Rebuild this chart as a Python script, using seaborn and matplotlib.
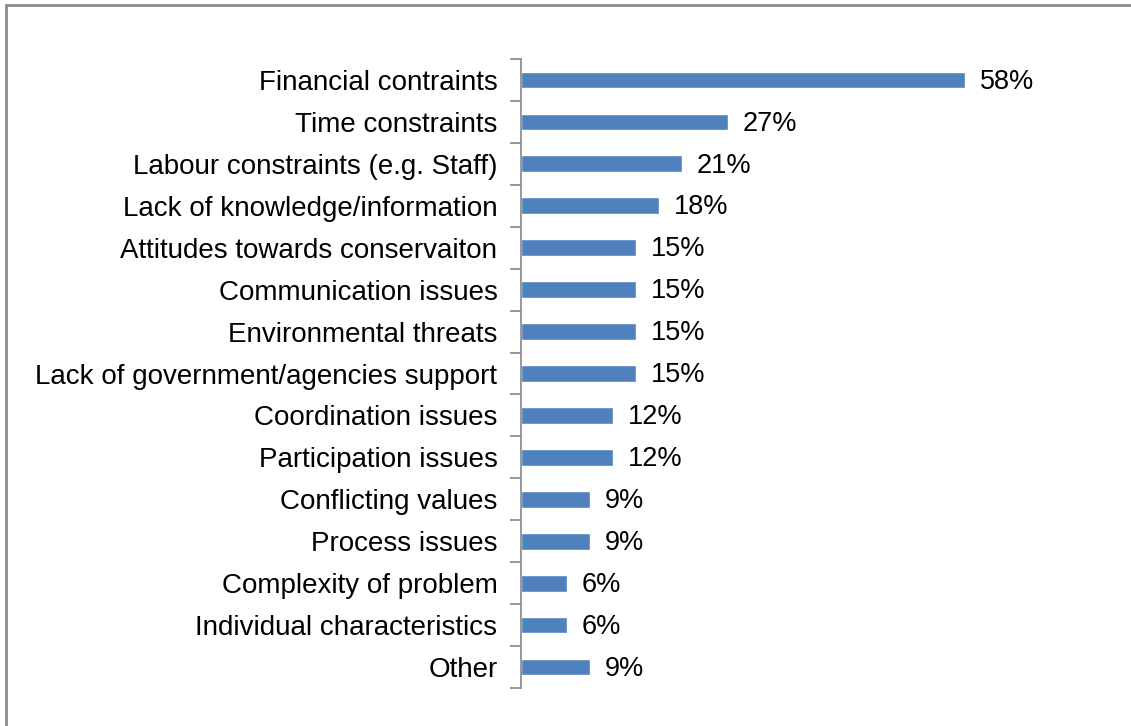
import numpy as np
import pandas as pd
import matplotlib
matplotlib.use("Agg")
import matplotlib.pyplot as plt
import seaborn as sns
from matplotlib.lines import Line2D

# Data
categories = [
    "Financial contraints", "Time constraints", "Labour constraints (e.g. Staff)",
    "Lack of knowledge/information", "Attitudes towards conservaiton",
    "Communication issues", "Environmental threats",
    "Lack of government/agencies support", "Coordination issues",
    "Participation issues", "Conflicting values", "Process issues",
    "Complexity of problem", "Individual characteristics", "Other",
]
percent = [58, 27, 21, 18, 15, 15, 15, 15, 12, 12, 9, 9, 6, 6, 9]

df = pd.DataFrame({"category": categories, "percent": percent})

sns.set_style("white")
plt.rcParams["font.family"] = ["Liberation Sans", "DejaVu Sans"]

W, H = 1131, 726
fig = plt.figure(figsize=(W / 100, H / 100), dpi=100)
ax = fig.add_axes([521 / W, (H - 688) / H, (1100 - 521) / W, (688 - 59) / H])

sns.barplot(data=df, x="percent", y="category", orient="h", color="#4F81BD",
            width=0.4, saturation=1, ax=ax)

ax.set_xlim(0, (1100 - 521) / 7.66)
ax.set_ylim(len(categories) - 0.5, -0.5)
ax.set_xlabel("")
ax.set_ylabel("")
ax.set_xticks([])

for s in ["top", "right", "bottom"]:
    ax.spines[s].set_visible(False)
ax.spines["left"].set_color("#868686")
ax.spines["left"].set_linewidth(1.2)

ax.set_yticks(np.arange(-0.5, len(categories), 1.0), minor=True)
ax.tick_params(axis="y", which="major", length=0, pad=17, labelsize=20, labelcolor="black")
ax.tick_params(axis="y", which="minor", length=8, width=1.2, color="#868686", left=True)

for i, v in enumerate(percent):
    ax.text(v + 1.9, i + 0.04, f"{v}%", va="center", ha="left", fontsize=19.5, color="black")

# border around the chart area (only top and left visible in the reference)
fig.add_artist(Line2D([6 / W, 1.0], [1 - 5 / H, 1 - 5 / H], transform=fig.transFigure,
                      color="#8c8c8c", linewidth=2))
fig.add_artist(Line2D([6 / W, 6 / W], [0.0, 1 - 5 / H], transform=fig.transFigure,
                      color="#8c8c8c", linewidth=2))

fig.savefig("out.png", dpi=100)
